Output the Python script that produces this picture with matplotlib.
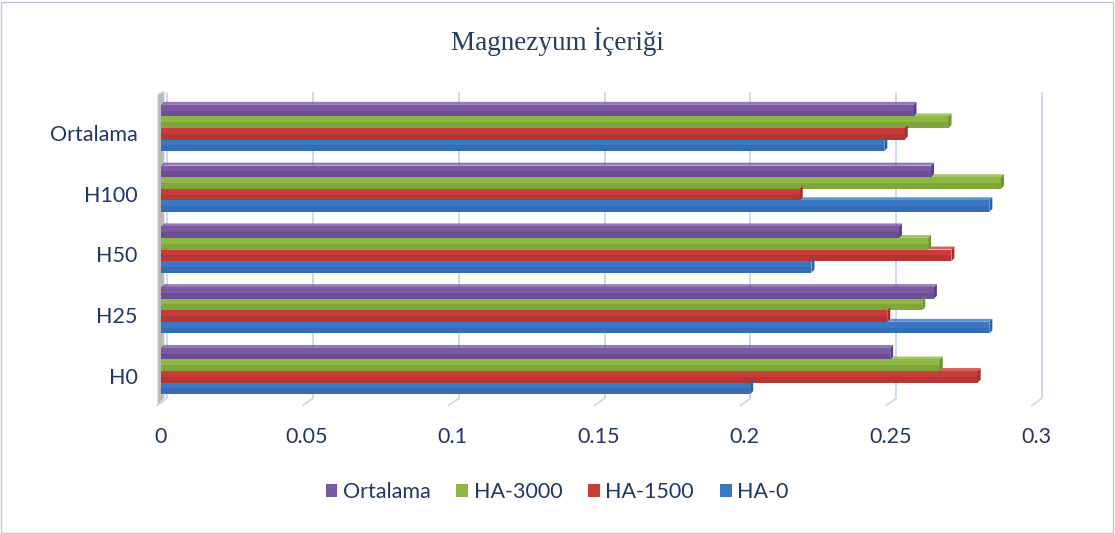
import numpy as np
import matplotlib
matplotlib.use("Agg")
import matplotlib.pyplot as plt
import matplotlib.transforms as mtransforms
from matplotlib.patches import Polygon, Rectangle

categories = ["H0", "H25", "H50", "H100", "Ortalama"]
series_names = ["HA-0", "HA-1500", "HA-3000", "Ortalama"]
ha0 = [0.202, 0.284, 0.223, 0.284, 0.248]
ha1500 = [0.280, 0.249, 0.271, 0.219, 0.255]
ha3000 = [0.267, 0.261, 0.263, 0.288, 0.270]
ortalama = [0.250, 0.265, 0.253, 0.264, 0.258]
xticks = [0, 0.05, 0.1, 0.15, 0.2, 0.25, 0.3]
xtick_labels = ["0", "0.05", "0.1", "0.15", "0.2", "0.25", "0.3"]

colors = ["#3A78C4", "#C83C3A", "#8DB843", "#7A58A2"]
darks = ["#2D609F", "#A22F2D", "#70942F", "#5F4283"]
txt = "#1F3864"

W, H = 1115, 534
fig = plt.figure(figsize=(W / 100, H / 100), dpi=100)
fig.patches.append(Rectangle((1 / W, 1 / H), 1 - 3 / W, 1 - 3 / H, transform=fig.transFigure,
                             fill=False, edgecolor="#BFC8D6", lw=1))

# axes placement in pixels
x0, x1 = 161, 1036
ylo, yhi = -0.6, 4.6
top_px, bot_px = 91.5, 407.5
ax = fig.add_axes([x0 / W, 1 - bot_px / H, (x1 - x0) / W, (bot_px - top_px) / H])
ax.set_xlim(0, 0.3)
ax.set_ylim(ylo, yhi)
pxx = (x1 - x0) / 0.3
pxy = (bot_px - top_px) / (yhi - ylo)

# back grid lines with slanted front part
for v in xticks:
    gx = v + 6 / pxx
    ax.plot([gx, gx], [-0.45, 4.58], color="#C9D8EE", lw=1.3, zorder=0, clip_on=False)
    ax.plot([gx, gx - 10 / pxx], [-0.45, -0.45 - 7 / pxy], color="#C9D8EE", lw=1.3,
            zorder=0, clip_on=False)

# left wall
wall = Polygon([(-3 / pxx, 4.55), (3 / pxx, 4.6), (3 / pxx, -0.45), (-3 / pxx, -0.55)],
               closed=True, facecolor="#B8B8B8", edgecolor="#D0D0D0", lw=0.8, zorder=1,
               clip_on=False)
ax.add_patch(wall)

y = np.arange(len(categories))
bh = 0.19
data = [ha0, ha1500, ha3000, ortalama]
for k, vals in enumerate(data):
    yy = y - 1.5 * bh + k * bh
    ax.barh(yy, vals, height=bh, color=colors[k], zorder=3, label=series_names[k])
    ax.barh(yy - bh / 4, vals, height=bh / 2, color=darks[k], alpha=0.45, zorder=3)
    for yi, v in zip(yy, vals):
        dx, dy = 3 / pxx, 3 / pxy
        cap = Polygon([(v, yi - bh / 2), (v + dx, yi - bh / 2 + dy), (v + dx, yi + bh / 2 + dy),
                       (v, yi + bh / 2)], closed=True, facecolor=darks[k], edgecolor="none",
                      zorder=4)
        ax.add_patch(cap)
        topf = Polygon([(0, yi + bh / 2), (dx, yi + bh / 2 + dy), (v + dx, yi + bh / 2 + dy),
                        (v, yi + bh / 2)], closed=True, facecolor=colors[k], edgecolor="none",
                       alpha=0.8, zorder=2)
        ax.add_patch(topf)

ax.set_xticks(xticks)
ax.set_xticklabels(xtick_labels)
ax.set_yticks(y)
ax.set_yticklabels(categories)
ax.tick_params(axis="x", length=0, pad=14, labelsize=15.5, labelcolor=txt)
ax.tick_params(axis="y", length=0, pad=17, labelsize=15.5, labelcolor=txt)
for lab in ax.get_xticklabels() + ax.get_yticklabels():
    lab.set_family("Lato")
shift = mtransforms.ScaledTranslation(0, -5 / 100, fig.dpi_scale_trans)
for lab in ax.get_yticklabels():
    lab.set_transform(lab.get_transform() + shift)
for s in ax.spines.values():
    s.set_visible(False)
ax.set_facecolor("none")

fig.text(557 / W, 1 - 42 / H, "Magnezyum İçeriği", ha="center", va="center",
         family="Liberation Serif", fontsize=19.5, color="#243F60")

handles, labels = ax.get_legend_handles_labels()
order = [3, 2, 1, 0]
fig.legend([handles[i] for i in order], [labels[i] for i in order], loc="center",
           bbox_to_anchor=(557 / W, 1 - 492 / H), ncol=4, frameon=False,
           handlelength=0.55, handleheight=0.55, handletextpad=0.25, columnspacing=1.2,
           prop={"family": "Lato", "size": 15.5}, labelcolor=txt)

fig.savefig("out.png", dpi=100)
